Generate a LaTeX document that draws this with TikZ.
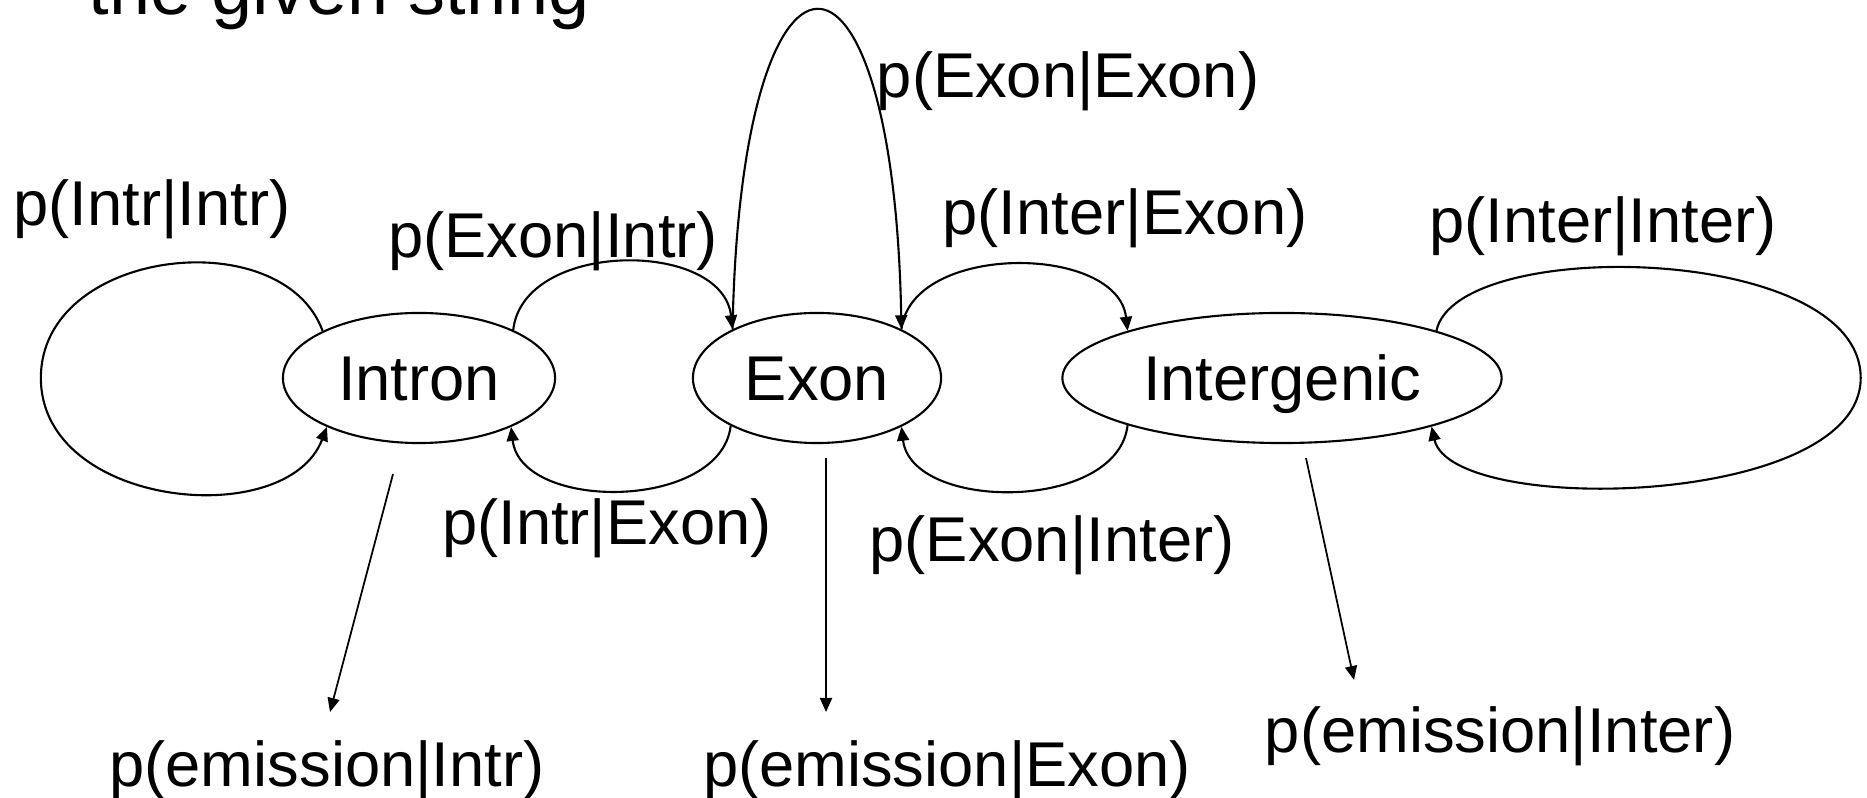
\documentclass[tikz,border=0pt]{standalone}
\usepackage{fontspec}
\setmainfont{Liberation Sans}
\usetikzlibrary{shapes.geometric,arrows.meta,arrows}
\tikzset{
hmmstate/.style={
  ellipse,
  draw,
  line width=0.6pt,
  inner sep=0pt,
  minimum height=1.3cm,
  text height=13pt,
  text depth=0pt
  },
prob/.style={
  anchor=base,
  inner sep=0pt
  },
trans/.style={
  ->,
  line width=0.6pt
  },
emit/.style={
  ->,
  line width=0.5pt
  }
}

\begin{document}
\begin{tikzpicture}[>={Triangle[length=1.4mm,width=1.2mm]},x=0.01cm,y=-0.01cm,font=\fontsize{18}{22}\selectfont]

\useasboundingbox (0,0) rectangle (1867,798);

\node[prob,font=\fontsize{21}{25}\selectfont] (title) at (339,15) {the given string};

\node[hmmstate,minimum width=2.72cm] (intr) at (419,378) {Intron};
\node[hmmstate,minimum width=2.48cm] (exon) at (817,378) {Exon};
\node[hmmstate,minimum width=4.39cm] (inter) at (1282,378) {Intergenic};

\node[prob] (t-ii) at (152,226) {p(Intr|Intr)};
\node[prob] (t-ei) at (553,258) {p(Exon|Intr)};
\node[prob] (t-ee) at (1068,98) {p(Exon|Exon)};
\node[prob] (t-ne) at (1125,235) {p(Inter|Exon)};
\node[prob] (t-nn) at (1603,243) {p(Inter|Inter)};
\node[prob] (t-ie) at (607,545) {p(Intr|Exon)};
\node[prob] (t-en) at (1052,562) {p(Exon|Inter)};

\node[prob] (e-i) at (327,787) {p(emission|Intr)};
\node[prob] (e-e) at (947,787) {p(emission|Exon)};
\node[prob] (e-n) at (1500,753) {p(emission|Inter)};

\coordinate (intr-loop) at ([shift={(-241,0)}]intr.west);
\coordinate (inter-loop) at ([shift={(358,0)}]inter.east);

\draw[trans] (intr.154) .. controls +(-40,-110) and +(0,-130) .. (intr-loop)
  .. controls +(0,130) and +(-40,105) .. (intr.208);
\draw[trans] (intr.27) .. controls +(10,-90) and +(-10,-90) .. (exon.150);
\draw[trans] (exon.209) .. controls +(-10,85) and +(10,85) .. (intr.332);
\draw[trans] (exon.150) .. controls +(8,-425) and +(-8,-425) .. (exon.30);
\draw[trans] (exon.30) .. controls +(10,-87) and +(-10,-87) .. (inter.163);
\draw[trans] (inter.197) .. controls +(-10,87) and +(10,85) .. (exon.330);
\draw[trans] (inter.17) .. controls +(20,-95) and +(0,-135) .. (inter-loop)
  .. controls +(0,130) and +(20,90) .. (inter.342);

\draw[emit] ([shift={(-26,30)}]intr.south) -- ([shift={(3,-75)}]e-i.base);
\draw[emit] ([shift={(9,14)}]exon.south) -- ([shift={(-121,-75)}]e-e.base);
\draw[emit] ([shift={(24,14)}]inter.south) -- ([shift={(-146,-73)}]e-n.base);

\end{tikzpicture}
\end{document}
